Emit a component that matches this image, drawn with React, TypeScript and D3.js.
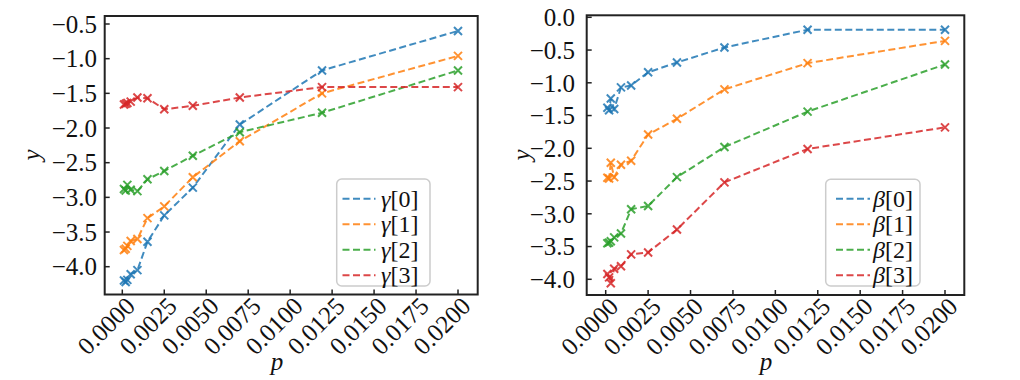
import React, { useEffect, useRef } from 'react';
import * as d3 from 'd3';

const P = [0.0001, 0.0002, 0.0003, 0.0005, 0.0009, 0.0015, 0.0025, 0.0042, 0.007, 0.0119, 0.02];

const GAMMA_0 = [-4.2, -4.22, -4.19, -4.11, -4.05, -3.64, -3.26, -2.86, -1.95, -1.17, -0.6];
const GAMMA_1 = [-3.76, -3.74, -3.7, -3.63, -3.6, -3.3, -3.13, -2.71, -2.19, -1.5, -0.96];
const GAMMA_2 = [-2.88, -2.9, -2.82, -2.89, -2.91, -2.74, -2.62, -2.4, -2.06, -1.78, -1.17];
const GAMMA_3 = [-1.66, -1.65, -1.64, -1.62, -1.56, -1.57, -1.73, -1.68, -1.56, -1.41, -1.41];

const BETA_0 = [-1.38, -1.42, -1.24, -1.4, -1.07, -1.04, -0.84, -0.69, -0.46, -0.19, -0.19];
const BETA_1 = [-2.45, -2.46, -2.22, -2.44, -2.25, -2.19, -1.79, -1.55, -1.1, -0.7, -0.36];
const BETA_2 = [-3.45, -3.44, -3.42, -3.36, -3.3, -2.93, -2.88, -2.44, -1.98, -1.44, -0.72];
const BETA_3 = [-3.92, -3.97, -4.06, -3.84, -3.8, -3.62, -3.59, -3.24, -2.52, -2.01, -1.68];

const SERIES_NAMES = ['[0]', '[1]', '[2]', '[3]'];
const X_TICKS = [0, 0.0025, 0.005, 0.0075, 0.01, 0.0125, 0.015, 0.0175, 0.02];
const Y_TICKS_LEFT = [-0.5, -1, -1.5, -2, -2.5, -3, -3.5, -4];
const Y_TICKS_RIGHT = [0, -0.5, -1, -1.5, -2, -2.5, -3, -3.5, -4];
const COLORS = ['#1f77b4', '#ff7f0e', '#2ca02c', '#d62728'];

const FONT = 'Liberation Serif';
const FS = 25;
const LEG_FS = 24;

type Frame = { left: number; right: number; top: number; bottom: number };
type Legend = { left: number; right: number; top: number; bottom: number; lineX0: number; lineX1: number; textX: number; rowY0: number; rowStep: number };
type PanelCfg = {
  frame: Frame;
  xRange: [number, number];
  yDomain: [number, number];
  yRange: [number, number];
  yTicks: number[];
  series: number[][];
  symbol: string;
  legend: Legend;
  yLabelEnd: number;
  xLabelPos: [number, number];
  yLabelPos: [number, number];
};

const fmtX = d3.format('.4f');
const fmtY = d3.format('.1f');

function drawPanel(root: d3.Selection<SVGGElement, unknown, null, undefined>, c: PanelCfg) {
  const x = d3.scaleLinear().domain([0, 0.02]).range(c.xRange);
  const y = d3.scaleLinear().domain(c.yDomain).range(c.yRange);
  const line = d3.line<number>().x((_, i) => x(P[i])).y((d) => y(d));
  const s = 4;

  c.series.forEach((vals, si) => {
    const g = root.append('g').attr('stroke', COLORS[si]).attr('stroke-opacity', 0.85).attr('fill', 'none').attr('stroke-width', 2);
    g.append('path').attr('d', line(vals) || '').attr('stroke-dasharray', '7,3.5');
    g.selectAll('path.m')
      .data(vals)
      .enter()
      .append('path')
      .attr('class', 'm')
      .attr('d', (v, i) => {
        const px = x(P[i]);
        const py = y(v);
        return `M${px - s},${py - s}L${px + s},${py + s}M${px - s},${py + s}L${px + s},${py - s}`;
      });
  });

  const f = c.frame;
  root
    .append('rect')
    .attr('x', f.left)
    .attr('y', f.top)
    .attr('width', f.right - f.left)
    .attr('height', f.bottom - f.top)
    .attr('fill', 'none')
    .attr('stroke', '#222')
    .attr('stroke-width', 2);

  X_TICKS.forEach((t) => {
    root.append('line').attr('x1', x(t)).attr('x2', x(t)).attr('y1', f.bottom).attr('y2', f.bottom - 5).attr('stroke', '#222').attr('stroke-width', 1.5);
    root
      .append('text')
      .attr('transform', `translate(${x(t) + 8},${f.bottom + 7}) rotate(-45)`)
      .attr('text-anchor', 'end')
      .attr('dy', '0.35em')
      .attr('font-family', FONT)
      .attr('font-size', FS)
      .attr('fill', '#111')
      .text(fmtX(t));
  });

  c.yTicks.forEach((t) => {
    root.append('line').attr('x1', f.left).attr('x2', f.left + 5).attr('y1', y(t)).attr('y2', y(t)).attr('stroke', '#222').attr('stroke-width', 1.5);
    root
      .append('text')
      .attr('x', c.yLabelEnd)
      .attr('y', y(t))
      .attr('dy', '0.35em')
      .attr('text-anchor', 'end')
      .attr('font-family', FONT)
      .attr('font-size', FS)
      .attr('fill', '#111')
      .text(fmtY(t));
  });

  root
    .append('text')
    .attr('x', c.xLabelPos[0])
    .attr('y', c.xLabelPos[1])
    .attr('text-anchor', 'middle')
    .attr('font-family', FONT)
    .attr('font-style', 'italic')
    .attr('font-size', FS)
    .attr('fill', '#111')
    .text('p');
  root
    .append('text')
    .attr('transform', `translate(${c.yLabelPos[0]},${c.yLabelPos[1]}) rotate(-90)`)
    .attr('text-anchor', 'middle')
    .attr('dy', '0.3em')
    .attr('font-family', FONT)
    .attr('font-style', 'italic')
    .attr('font-size', FS)
    .attr('fill', '#111')
    .text('y');

  const L = c.legend;
  root
    .append('rect')
    .attr('x', L.left)
    .attr('y', L.top)
    .attr('width', L.right - L.left)
    .attr('height', L.bottom - L.top)
    .attr('rx', 5)
    .attr('fill', 'white')
    .attr('fill-opacity', 0.8)
    .attr('stroke', '#cccccc')
    .attr('stroke-width', 1.5);
  SERIES_NAMES.forEach((name, i) => {
    const ry = L.rowY0 + i * L.rowStep;
    root
      .append('line')
      .attr('x1', L.lineX0)
      .attr('x2', L.lineX1)
      .attr('y1', ry)
      .attr('y2', ry)
      .attr('stroke', COLORS[i])
      .attr('stroke-opacity', 0.85)
      .attr('stroke-width', 2)
      .attr('stroke-dasharray', '7,3.5');
    const t = root
      .append('text')
      .attr('x', L.textX)
      .attr('y', ry)
      .attr('dy', '0.33em')
      .attr('font-family', FONT)
      .attr('font-size', LEG_FS)
      .attr('fill', '#111');
    t.append('tspan').attr('font-style', 'italic').text(c.symbol);
    t.append('tspan').text(name);
  });
}

const LEFT: PanelCfg = {
  frame: { left: 104.7, right: 477.7, top: 16, bottom: 294.5 },
  xRange: [122.3, 458],
  yDomain: [-0.5, -4],
  yRange: [24, 266.7],
  yTicks: Y_TICKS_LEFT,
  series: [GAMMA_0, GAMMA_1, GAMMA_2, GAMMA_3],
  symbol: 'γ',
  legend: { left: 336.7, right: 430, top: 179, bottom: 286, lineX0: 342.5, lineX1: 375.5, textX: 381, rowY0: 198.7, rowStep: 25.5 },
  yLabelEnd: 97,
  xLabelPos: [277, 370],
  yLabelPos: [32, 155],
};

const RIGHT: PanelCfg = {
  frame: { left: 586.7, right: 964.3, top: 15.3, bottom: 295 },
  xRange: [605.7, 945],
  yDomain: [0, -4],
  yRange: [17.3, 279.3],
  yTicks: Y_TICKS_RIGHT,
  series: [BETA_0, BETA_1, BETA_2, BETA_3],
  symbol: 'β',
  legend: { left: 825.7, right: 920, top: 179.3, bottom: 286, lineX0: 836, lineX1: 870, textX: 873, rowY0: 198.7, rowStep: 25.5 },
  yLabelEnd: 575,
  xLabelPos: [766, 370],
  yLabelPos: [522, 155],
};

export default function App() {
  const ref = useRef<SVGGElement>(null);
  useEffect(() => {
    if (!ref.current) return;
    const root = d3.select(ref.current);
    root.selectAll('*').remove();
    drawPanel(root.append('g'), LEFT);
    drawPanel(root.append('g'), RIGHT);
  }, []);
  return (
    <svg width={1020} height={380} style={{ position: 'absolute', left: 0, top: 0, background: 'white' }}>
      <g ref={ref} />
    </svg>
  );
}
